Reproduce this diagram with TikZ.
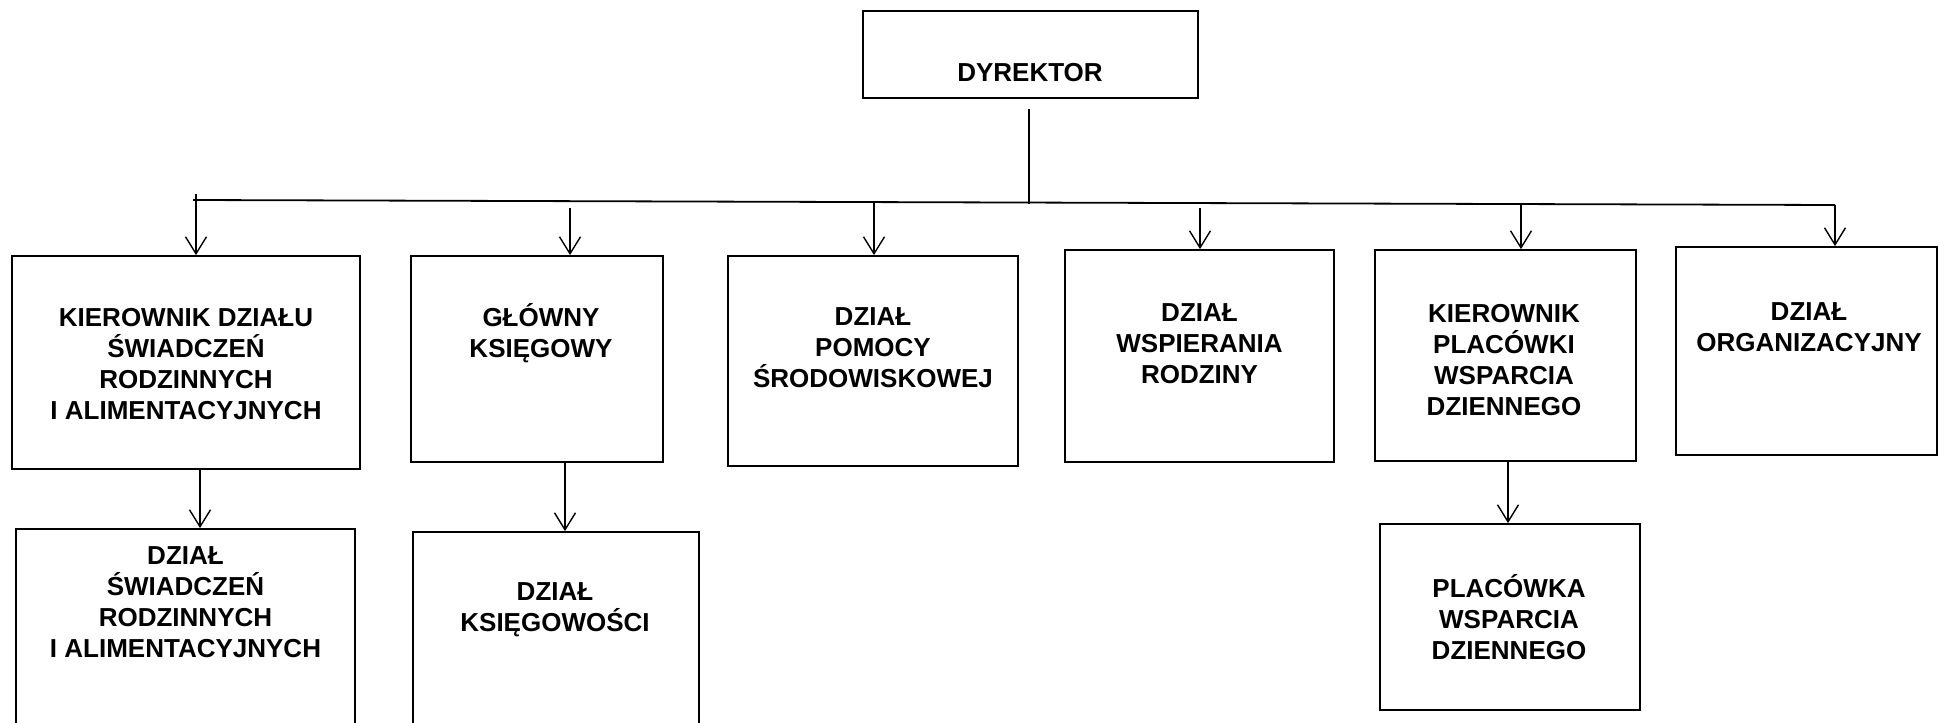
\documentclass[tikz,border=0pt]{standalone}
\usepackage{fontspec}
\setmainfont{Liberation Sans}
\usetikzlibrary{arrows.meta}
\begin{document}
\begin{tikzpicture}[x=1pt,y=-1pt,
  box/.style={draw, line width=1.8pt, inner sep=0pt},
  lbl/.style={align=center, font=\bfseries\fontsize{26}{31}\selectfont, inner sep=0pt},
  conn/.style={line width=1.4pt, -{Straight Barb[length=17pt,width=21pt,line width=1.4pt]}},
  bus/.style={line width=1.8pt}]
\useasboundingbox (0,0) rectangle (1939,723);
\fill[white] (0,0) rectangle (1939,723);
% boxes
\node[box, minimum width=335pt, minimum height=87pt] (dir) at (1030.5,54.5) {};
\node[box, minimum width=348pt, minimum height=213pt] (b1) at (186,362.5) {};
\node[box, minimum width=252pt, minimum height=206pt] (b2) at (537,359) {};
\node[box, minimum width=290pt, minimum height=210pt] (b3) at (873,361) {};
\node[box, minimum width=269pt, minimum height=212pt] (b4) at (1199.5,356) {};
\node[box, minimum width=261pt, minimum height=211pt] (b5) at (1505.5,355.5) {};
\node[box, minimum width=261pt, minimum height=208pt] (b6) at (1806.5,351) {};
\node[box, minimum width=339pt, minimum height=211pt] (b7) at (185.5,634.5) {};
\node[box, minimum width=286pt, minimum height=208pt] (b8) at (556,636) {};
\node[box, minimum width=260pt, minimum height=186pt] (b9) at (1510,617) {};
% labels
\node[lbl] (tdir) at (1030,73) {DYREKTOR};
\node[lbl] (t1) at (186,364) {KIEROWNIK DZIAŁU\\ŚWIADCZEŃ\\RODZINNYCH\\I ALIMENTACYJNYCH};
\node[lbl] (t2) at (541,333) {GŁÓWNY\\KSIĘGOWY};
\node[lbl] (t3) at (873,348) {DZIAŁ\\POMOCY\\ŚRODOWISKOWEJ};
\node[lbl] (t4) at (1199.5,344) {DZIAŁ\\WSPIERANIA\\RODZINY};
\node[lbl] (t5) at (1504,360) {KIEROWNIK\\PLACÓWKI\\WSPARCIA\\DZIENNEGO};
\node[lbl] (t6) at (1809,327) {DZIAŁ\\ORGANIZACYJNY};
\node[lbl] (t7) at (185.5,602) {DZIAŁ\\ŚWIADCZEŃ\\RODZINNYCH\\I ALIMENTACYJNYCH};
\node[lbl] (t8) at (555,610) {DZIAŁ\\KSIĘGOWOŚCI};
\node[lbl] (t9) at (1509,617) {PLACÓWKA\\WSPARCIA\\DZIENNEGO};
% bus and director line
\coordinate (busL) at (193,200);
\coordinate (busR) at (1835,205);
\draw[bus] (busL) -- (busR);
\coordinate (d1) at (1029,109);
\coordinate (d2) at (1029,204);
\draw[line width=1.4pt] (d1) -- (d2);
% arrows to first row
\coordinate (s1) at (196,194);
\coordinate (s2) at (570,208);
\coordinate (s3) at (874,201);
\coordinate (s4) at (1200,208);
\coordinate (s5) at (1521,205);
\coordinate (s6) at (1835,205);
\draw[conn] (s1) -- (s1 |- b1.north);
\draw[conn] (s2) -- (s2 |- b2.north);
\draw[conn] (s3) -- (s3 |- b3.north);
\draw[conn] (s4) -- (s4 |- b4.north);
\draw[conn] (s5) -- (s5 |- b5.north);
\draw[conn] (s6) -- (s6 |- b6.north);
% arrows to second row
\coordinate (s7) at (200,469);
\coordinate (s8) at (565,462);
\coordinate (s9) at (1508,461);
\draw[conn] (s7) -- (s7 |- b7.north);
\draw[conn] (s8) -- (s8 |- b8.north);
\draw[conn] (s9) -- (s9 |- b9.north);
\end{tikzpicture}
\end{document}
